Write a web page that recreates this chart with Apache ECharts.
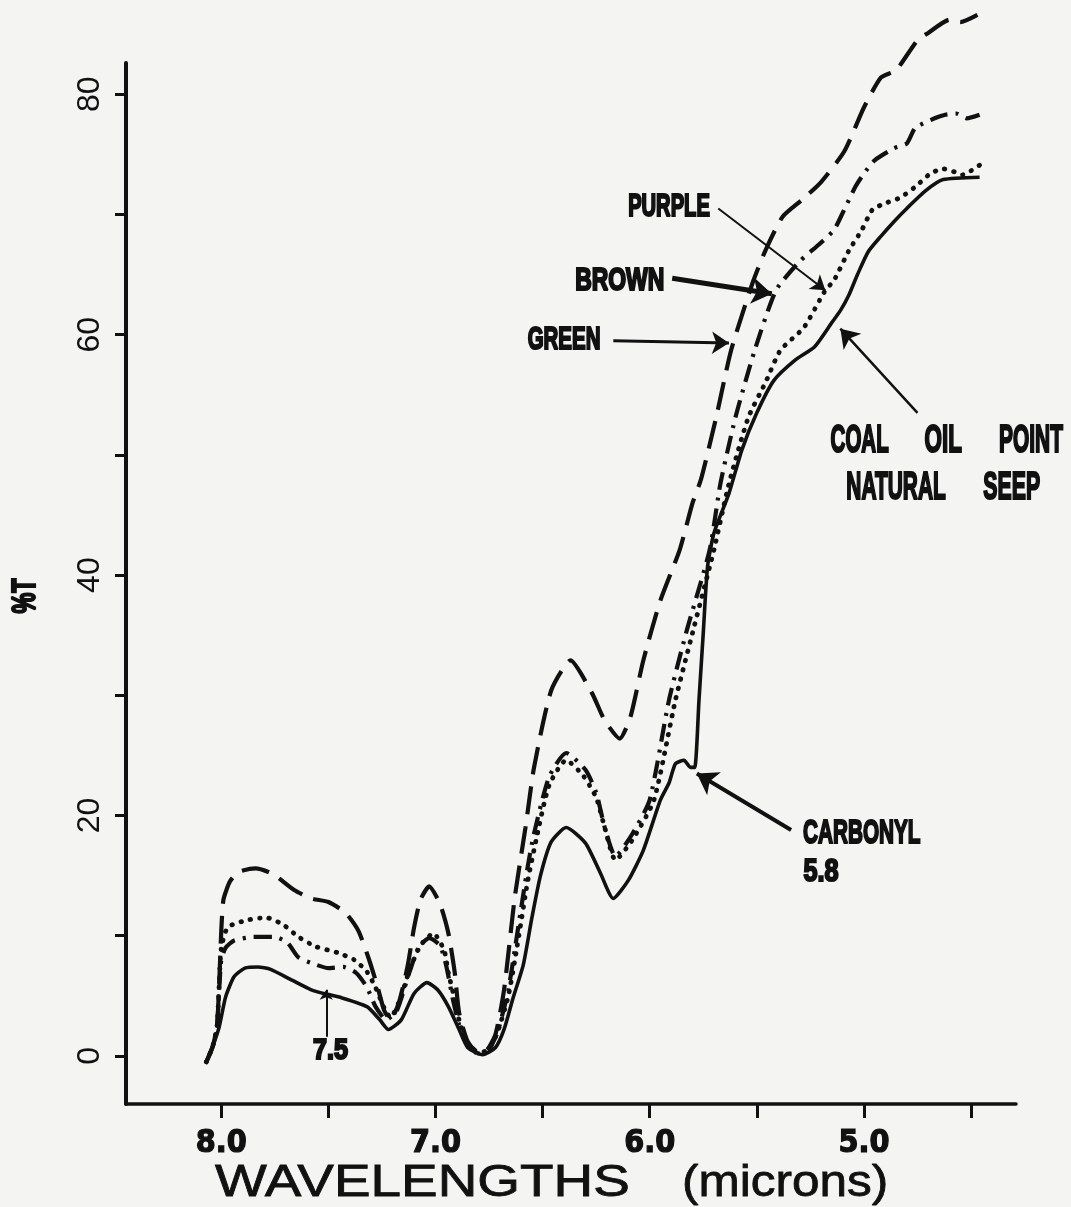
<!DOCTYPE html>
<html><head><meta charset="utf-8">
<script src="https://cdn.jsdelivr.net/npm/echarts@6/dist/echarts.min.js"></script>
<style>html,body{margin:0;padding:0;background:#f4f4f2;}#c{width:1071px;height:1207px;}</style>
</head><body><div id="c"></div>
<script>
// ---- axis ticks / labels ----
const xTickValues = [4.5, 5.0, 5.5, 6.0, 6.5, 7.0, 7.5, 8.0];
const xLabelValues = [5.0, 6.0, 7.0, 8.0];
const yTickValues = [0, 10, 20, 30, 40, 50, 60, 70, 80];
const yLabelValues = [0, 20, 40, 60, 80];

// ---- series: [wavelength (microns), %T] ----
const greenData = [[8.07,-0.5],[8.04,0.8],[8.02,2.5],[8.01,6],[8.00,10.5],[7.99,13.0],[7.96,14.5],[7.92,15.3],[7.84,15.6],[7.78,15.3],[7.74,14.9],[7.66,13.8],[7.58,13.1],[7.50,12.8],[7.42,11.9],[7.36,10.4],[7.31,8.0],[7.27,5.7],[7.24,3.8],[7.21,3.0],[7.17,4.5],[7.13,7.5],[7.10,10.7],[7.07,13.0],[7.03,14.1],[6.98,12.7],[6.94,10.2],[6.91,6.9],[6.89,3.6],[6.85,1.2],[6.80,0.3],[6.76,0.5],[6.72,1.8],[6.68,5.5],[6.63,13.2],[6.58,19.0],[6.54,24.0],[6.46,30.4],[6.37,32.9],[6.27,30.2],[6.21,27.9],[6.14,26.4],[6.09,28.2],[6.03,32.9],[5.95,37.9],[5.86,42.1],[5.80,46.0],[5.76,48.0],[5.69,53.1],[5.62,58.7],[5.52,64.3],[5.46,67.0],[5.38,69.8],[5.29,71.2],[5.20,72.7],[5.09,75.3],[5.00,78.9],[4.92,81.4],[4.85,82.0],[4.75,84.5],[4.70,85.1],[4.60,86.2],[4.55,86.0],[4.47,86.6]];
const brownData = [[8.07,-0.5],[8.04,0.8],[8.02,2.5],[8.01,5.5],[8.00,8.0],[7.98,9.0],[7.94,9.6],[7.85,9.9],[7.75,9.9],[7.69,9.4],[7.64,8.2],[7.56,7.6],[7.50,7.3],[7.43,7.4],[7.37,6.9],[7.32,5.7],[7.28,4.1],[7.23,3.0],[7.18,3.8],[7.13,6.5],[7.08,9.0],[7.03,9.8],[6.98,9.2],[6.95,7.5],[6.92,4.8],[6.89,2.6],[6.85,0.9],[6.80,0.2],[6.75,0.6],[6.71,2.0],[6.66,5.5],[6.62,10.0],[6.57,15.7],[6.54,18.5],[6.47,23.2],[6.39,25.2],[6.30,23.8],[6.25,21.9],[6.21,19.0],[6.16,16.6],[6.08,18.5],[6.00,21.3],[5.91,29.6],[5.83,35.2],[5.72,42.1],[5.67,47.6],[5.60,53.1],[5.51,58.7],[5.41,63.7],[5.30,66.1],[5.21,67.5],[5.14,68.7],[5.10,70.1],[5.04,72.3],[5.00,73.4],[4.95,74.5],[4.86,75.5],[4.80,75.9],[4.76,77.2],[4.67,78.0],[4.62,78.3],[4.57,78.4],[4.52,78.0],[4.46,78.3]];
const purpleData = [[8.07,-0.5],[8.04,0.8],[8.02,2.5],[8.01,6.0],[8.00,9.0],[7.97,10.7],[7.88,11.3],[7.79,11.5],[7.71,10.9],[7.64,9.9],[7.56,9.1],[7.46,8.6],[7.38,8.0],[7.32,7.0],[7.28,5.7],[7.24,4.0],[7.21,3.2],[7.17,4.5],[7.12,7.2],[7.07,9.2],[7.01,10.2],[6.96,8.8],[6.94,6.9],[6.91,4.7],[6.89,3.0],[6.85,1.0],[6.80,0.2],[6.75,0.6],[6.71,2.0],[6.66,5.0],[6.62,9.0],[6.57,14.5],[6.53,18.0],[6.47,22.5],[6.39,24.6],[6.31,23.3],[6.25,21.5],[6.21,19.0],[6.16,16.3],[6.08,18.0],[5.98,21.3],[5.88,29.6],[5.80,35.2],[5.72,40.7],[5.70,42.1],[5.63,47.6],[5.54,53.1],[5.46,56.0],[5.39,58.7],[5.28,60.6],[5.18,63.7],[5.14,64.5],[5.07,67.0],[5.01,68.7],[4.96,70.4],[4.89,71.0],[4.83,71.4],[4.76,72.3],[4.69,73.4],[4.63,73.8],[4.57,73.5],[4.54,73.3],[4.46,74.1]];
const seepData = [[8.07,-0.5],[8.04,0.8],[8.01,2.4],[7.98,4.9],[7.94,6.6],[7.89,7.3],[7.83,7.4],[7.77,7.2],[7.67,6.3],[7.58,5.5],[7.50,5.1],[7.45,4.9],[7.32,4.1],[7.26,3.0],[7.22,2.2],[7.16,3.0],[7.10,5.2],[7.04,6.1],[6.99,5.5],[6.94,4.1],[6.89,2.2],[6.85,0.7],[6.78,0.1],[6.72,0.7],[6.68,2.2],[6.64,4.7],[6.59,7.6],[6.55,11.5],[6.51,15.0],[6.46,17.8],[6.39,19.0],[6.30,17.7],[6.23,15.2],[6.17,13.1],[6.10,14.6],[6.03,17.1],[5.95,21.3],[5.91,22.7],[5.88,24.3],[5.84,24.6],[5.81,24.0],[5.79,24.0],[5.77,29.6],[5.75,35.2],[5.73,40.7],[5.70,43.5],[5.63,46.8],[5.57,50.4],[5.50,53.5],[5.42,56.2],[5.32,57.9],[5.23,59.0],[5.15,61.0],[5.11,62.0],[5.07,63.3],[5.03,65.0],[4.98,66.9],[4.92,68.2],[4.86,69.4],[4.80,70.5],[4.71,72.0],[4.63,72.9],[4.46,73.1]];

// ---- annotations (data coordinates) ----
const arrowFrom = [[5.68,70.5],[5.895,64.7],[6.17,59.5],[4.75,53.5],[5.34,18.8],[7.51,1.6]];
const arrowTo   = [[5.18,63.7],[5.43,63.4],[5.63,59.3],[5.11,60.5],[5.78,23.5],[7.51,5.5]];
const arrowWidth = [2, 5, 3, 2.5, 4, 2];
const arrowHead  = [14, 20, 17, 18, 20, 10];
const labelTexts = ['PURPLE','BROWN','GREEN','COAL','OIL','POINT','NATURAL','SEEP','CARBONYL','5.8','7.5'];
const labelAt = [[5.91,70.6],[6.14,64.4],[6.40,59.5],[5.02,51.1],[4.63,51.1],[4.22,51.1],[4.85,47.2],[4.31,47.2],[5.01,18.5],[5.20,15.3],[7.49,0.4]];
const labelSize = [31,31,31,38,38,38,38,38,34,32,30];
const labelSqueeze = [0.65,0.74,0.66,0.54,0.59,0.55,0.55,0.56,0.61,0.79,0.84];

const ink = '#111';
const chart = echarts.init(document.getElementById('c'), null, {renderer:'canvas'});

const markData = arrowFrom.map((f, i) => [
  {coord: f, symbol: 'none', lineStyle: {color: ink, width: arrowWidth[i], type: 'solid'}},
  {coord: arrowTo[i], symbol: 'arrow', symbolSize: arrowHead[i]}
]);

const option = {
  backgroundColor: '#f4f4f2',
  animation: false,
  grid: {left: 126, right: 55, top: 63, bottom: 103},
  xAxis: {
    type: 'value', inverse: true, min: 4.29, max: 8.445,
    axisLine: {onZero: false, lineStyle: {color: ink, width: 3.5}},
    axisTick: {show: true, customValues: xTickValues, length: 14, lineStyle: {color: ink, width: 3}},
    axisLabel: {customValues: xLabelValues, formatter: v => v.toFixed(1), color: ink,
      fontFamily: '"Liberation Sans Narrow","DejaVu Sans Condensed","Liberation Sans"', fontWeight: 'bold', fontSize: 32, margin: 24,
      textBorderColor: ink, textBorderWidth: 1.2},
    splitLine: {show: false}
  },
  yAxis: {
    type: 'value', min: -4, max: 82.6,
    axisLine: {show: true, onZero: false, lineStyle: {color: ink, width: 4}},
    axisTick: {show: true, customValues: yTickValues, length: 11, lineStyle: {color: ink, width: 3}},
    axisLabel: {customValues: yLabelValues, rotate: 90, color: ink, fontFamily: '"Liberation Sans"', fontSize: 32, margin: 20},
    splitLine: {show: false}
  },
  series: [
    {name: 'GREEN', type: 'line', data: greenData, smooth: 0.2, symbol: 'none', clip: false, silent: true,
     lineStyle: {color: ink, width: 4.2, type: [28, 12], cap: 'butt'}},
    {name: 'BROWN', type: 'line', data: brownData, smooth: 0.2, symbol: 'none', clip: false, silent: true,
     lineStyle: {color: ink, width: 4.2, type: [18, 8, 3, 8], cap: 'butt'}},
    {name: 'PURPLE', type: 'line', data: purpleData, smooth: 0.2, symbol: 'none', clip: false, silent: true,
     lineStyle: {color: ink, width: 4.8, type: [0.5, 9], cap: 'round'}},
    {name: 'SEEP', type: 'line', data: seepData, smooth: 0.2, symbol: 'none', clip: false, silent: true,
     lineStyle: {color: ink, width: 3.6, type: 'solid'},
     markLine: {silent: true, animation: false, label: {show: false}, symbol: ['none', 'arrow'],
       lineStyle: {color: ink}, itemStyle: {color: ink}, emphasis: {disabled: true}, data: markData}}
  ]
};
chart.setOption(option);

const graphics = labelTexts.map((t, i) => {
  const p = chart.convertToPixel({xAxisIndex: 0, yAxisIndex: 0}, labelAt[i]);
  return {type: 'text', x: p[0], y: p[1], scaleX: labelSqueeze[i], silent: true,
    style: {text: t, fill: ink, stroke: ink, lineWidth: 2.2, fontFamily: '"Liberation Sans"', fontWeight: 'bold', fontSize: labelSize[i],
      align: 'center', verticalAlign: 'middle', textAlign: 'center', textVerticalAlign: 'middle'}};
});
graphics.push({type: 'text', x: 26, y: 596, rotation: Math.PI / 2, scaleX: 0.69, silent: true,
  style: {text: '%T', fill: ink, stroke: ink, lineWidth: 2.2, fontFamily: '"Liberation Sans"', fontWeight: 'bold', fontSize: 34,
    align: 'center', verticalAlign: 'middle', textAlign: 'center', textVerticalAlign: 'middle'}});
graphics.push({type: 'text', x: 215, y: 1184, scaleX: 1.22, silent: true,
  style: {text: 'WAVELENGTHS', fill: ink, stroke: ink, lineWidth: 0.8, fontFamily: '"Liberation Sans"', fontSize: 45,
    align: 'left', verticalAlign: 'middle', textAlign: 'left', textVerticalAlign: 'middle'}});
graphics.push({type: 'text', x: 682, y: 1184, scaleX: 1.10, silent: true,
  style: {text: '(microns)', fill: ink, stroke: ink, lineWidth: 0.8, fontFamily: '"Liberation Sans"', fontSize: 45,
    align: 'left', verticalAlign: 'middle', textAlign: 'left', textVerticalAlign: 'middle'}});
chart.setOption({graphic: graphics});
</script>
</body></html>
